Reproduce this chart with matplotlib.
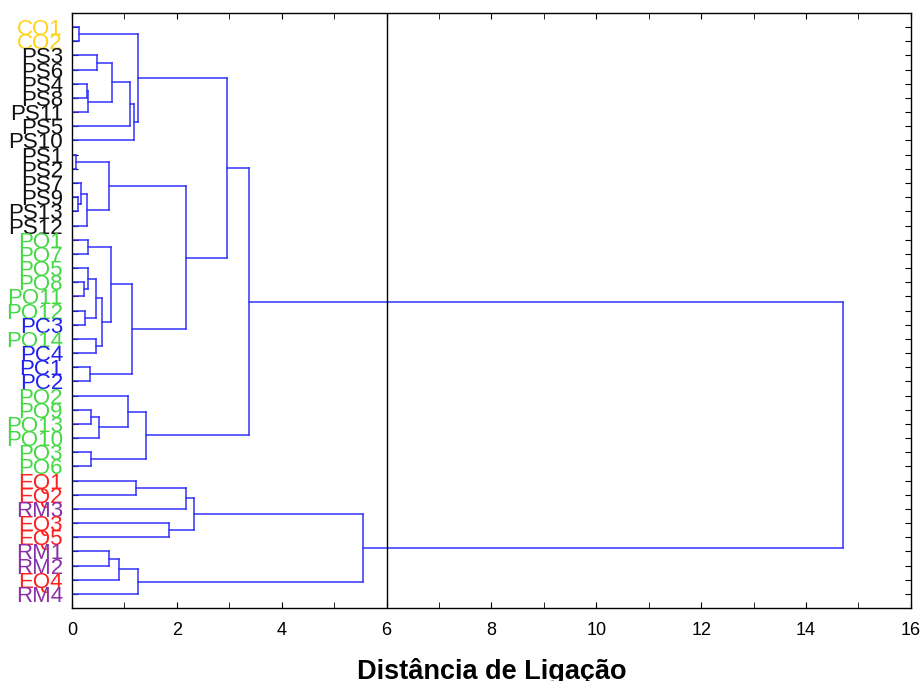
import matplotlib
matplotlib.use("Agg")
import matplotlib.pyplot as plt
from matplotlib.ticker import MultipleLocator

plt.rcParams['font.family'] = ['Liberation Sans', 'DejaVu Sans']

# leaves, top to bottom
leaves = ['CO1', 'CO2', 'PS3', 'PS6', 'PS4', 'PS8', 'PS11', 'PS5', 'PS10',
          'PS1', 'PS2', 'PS7', 'PS9', 'PS13', 'PS12',
          'PO1', 'PO7', 'PO5', 'PO8', 'PO11', 'PO12', 'PC3', 'PO14', 'PC4',
          'PC1', 'PC2', 'PO2', 'PO9', 'PO13', 'PO10', 'PO3', 'PO6',
          'EQ1', 'EQ2', 'RM3', 'EQ3', 'EQ5', 'RM1', 'RM2', 'EQ4', 'RM4']

# merges: (left, right, linkage distance); ints refer to earlier merges
merges = [
    ('CO1', 'CO2', 0.13),   # 0
    ('PS3', 'PS6', 0.47),   # 1
    ('PS4', 'PS8', 0.29),   # 2
    (2, 'PS11', 0.31),      # 3
    (1, 3, 0.77),           # 4
    (4, 'PS5', 1.11),       # 5
    (5, 'PS10', 1.18),      # 6
    (0, 6, 1.26),           # 7
    ('PS1', 'PS2', 0.08),   # 8
    ('PS9', 'PS13', 0.11),  # 9
    ('PS7', 9, 0.18),       # 10
    (10, 'PS12', 0.28),     # 11
    (8, 11, 0.70),          # 12
    ('PO1', 'PO7', 0.30),   # 13
    ('PO8', 'PO11', 0.23),  # 14
    ('PO5', 14, 0.30),      # 15
    ('PO12', 'PC3', 0.25),  # 16
    (15, 16, 0.45),         # 17
    ('PO14', 'PC4', 0.45),  # 18
    (17, 18, 0.57),         # 19
    (13, 19, 0.74),         # 20
    ('PC1', 'PC2', 0.35),   # 21
    (20, 21, 1.14),         # 22
    (12, 22, 2.17),         # 23
    (7, 23, 2.95),          # 24
    ('PO9', 'PO13', 0.37),  # 25
    (25, 'PO10', 0.52),     # 26
    ('PO2', 26, 1.06),      # 27
    ('PO3', 'PO6', 0.36),   # 28
    (27, 28, 1.41),         # 29
    (24, 29, 3.38),         # 30
    ('EQ1', 'EQ2', 1.22),   # 31
    (31, 'RM3', 2.17),      # 32
    ('EQ3', 'EQ5', 1.85),   # 33
    (32, 33, 2.32),         # 34
    ('RM1', 'RM2', 0.70),   # 35
    (35, 'EQ4', 0.90),      # 36
    (36, 'RM4', 1.26),      # 37
    (34, 37, 5.56),         # 38
    (30, 38, 14.71),        # 39
]

group_colors = {'CO': '#FFD21A', 'PS': '#111111', 'PO': '#44D844',
                'PC': '#2020F0', 'EQ': '#FF2020', 'RM': '#8A30A8'}
cut_distance = 6

fig = plt.figure(figsize=(9.22, 6.81), dpi=100)
ax = fig.add_axes([0.078, 0.107, 0.91, 0.874])

line_col = '#3333FF'
pos = {name: i for i, name in enumerate(leaves)}
hgt = {name: 0.0 for name in leaves}
for k, (a, b, d) in enumerate(merges):
    ya, yb = pos[a], pos[b]
    ax.plot([hgt[a], d], [ya, ya], color=line_col, lw=1.1)
    ax.plot([hgt[b], d], [yb, yb], color=line_col, lw=1.1)
    ax.plot([d, d], [ya, yb], color=line_col, lw=1.1)
    pos[k] = (ya + yb) / 2
    hgt[k] = d

ax.axvline(cut_distance, color='black', lw=1.0)

ax.set_xlim(0, 16)
ax.set_ylim(len(leaves), -1)
ax.xaxis.set_major_locator(MultipleLocator(2))
ax.xaxis.set_minor_locator(MultipleLocator(1))
ax.set_yticks(range(len(leaves)))
ax.set_yticklabels(leaves, fontsize=16)
for lab in ax.get_yticklabels():
    lab.set_color(group_colors[lab.get_text()[:2]])
ax.tick_params(axis='y', direction='in', left=True, right=True, length=4, pad=6.5)
ax.tick_params(axis='x', which='both', direction='in', top=True, bottom=True,
               length=4, labelsize=13, pad=10)
for s in ax.spines.values():
    s.set_linewidth(1.0)

ax.set_xlabel('Distância de Ligação', fontsize=19.5, fontweight='bold', labelpad=13.5)

fig.savefig('out.png', dpi=100)
